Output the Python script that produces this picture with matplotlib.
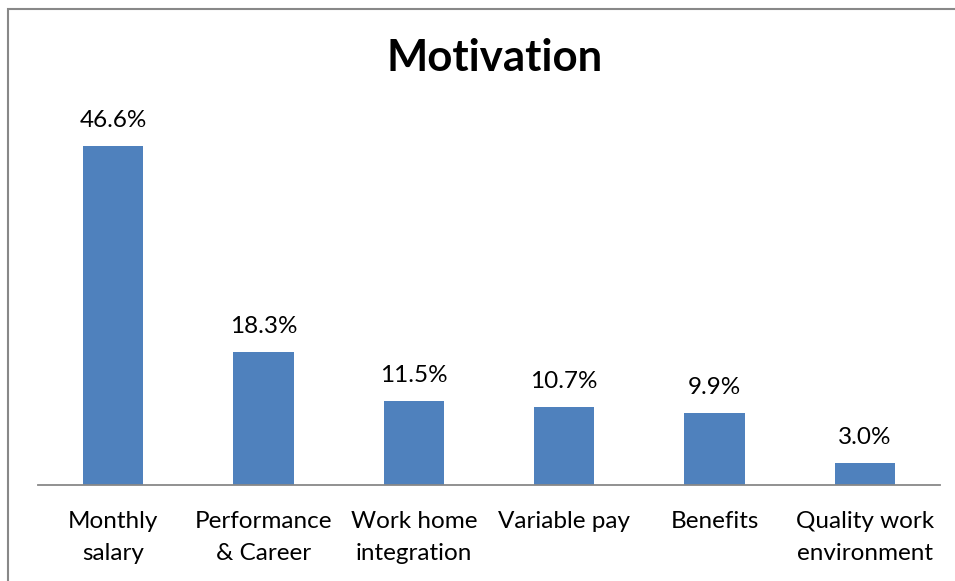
import matplotlib.pyplot as plt
from matplotlib.patches import Rectangle

categorie = ['Monthly\nsalary', 'Performance\n& Career', 'Work home\nintegration',
             'Variable pay', 'Benefits', 'Quality work\nenvironment']
valori = [46.6, 18.3, 11.5, 10.7, 9.9, 3.0]

plt.rcParams['font.family'] = ['Lato', 'DejaVu Sans']

fig = plt.figure(figsize=(9.55, 5.81), dpi=100)
ax = fig.add_axes([38/955, 96/581, 902/955, 363.5/581])

x = range(len(valori))
ax.bar(x, valori, width=0.4, color='#4F81BD')
for i, v in zip(x, valori):
    ax.annotate('%.1f%%' % v, (i, v), xytext=(0, 11), textcoords='offset points',
                ha='center', va='bottom', fontsize=17.5)

ax.set_xlim(-0.5, len(valori) - 0.5)
ax.set_ylim(0, 50)
ax.set_xticks(list(x))
ax.set_xticklabels(categorie, fontsize=17.5, linespacing=1.65)
ax.tick_params(axis='x', length=0, pad=18.5)
ax.set_yticks([])
for lato in ['left', 'right', 'top']:
    ax.spines[lato].set_visible(False)
ax.spines['bottom'].set_color('#888888')
ax.spines['bottom'].set_linewidth(1.3)

fig.text(0.518, 0.901, 'Motivation', ha='center', va='center', fontsize=31.5, fontweight='bold')

# cornice del grafico, tagliata a destra e in basso
fig.add_artist(Rectangle((8/955, -0.1), 1.2, 0.1 + (581 - 9)/581, transform=fig.transFigure,
                         fill=False, edgecolor='#888888', linewidth=1.5))

fig.savefig('out.png', dpi=100)
